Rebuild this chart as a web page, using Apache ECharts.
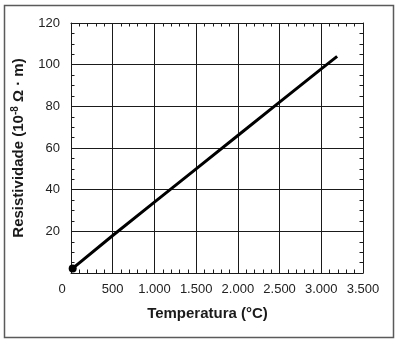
<!DOCTYPE html>
<html>
<head>
<meta charset="utf-8">
<script src="https://cdn.jsdelivr.net/npm/echarts@6/dist/echarts.min.js"></script>
<style>
  html, body { margin: 0; padding: 0; background: #fff; }
  #chart { width: 400px; height: 345px; }
</style>
</head>
<body>
<div id="chart"></div>
<script>
// Resistivity of a metal versus temperature
const temperatures = [20, 500, 1000, 1500, 2000, 2500, 3000, 3190];
const resistivity = [2.2, 18, 34, 50, 66, 82, 98, 104];

const xTicks = { min: 0, max: 3500, step: 500 };
const yTicks = { min: 0, max: 120, step: 20 };

const FONT = '"Liberation Sans", Arial, Helvetica, sans-serif';
const INK = '#1a1a1a';

// thousands separated by a dot: 1500 -> 1.500
function fmtThousands(v) {
  return String(v).replace(/\B(?=(\d{3})+(?!\d))/g, '.');
}

const lineData = temperatures.map((t, i) => {
  const item = { value: [t, resistivity[i]] };
  if (i === 0) { item.symbol = 'circle'; item.symbolSize = 8; }
  else { item.symbol = 'none'; }
  return item;
});

const frameAxis = (extra) => Object.assign({
  type: 'value',
  axisLine: { show: true, onZero: false, lineStyle: { color: INK, width: 1 } },
  axisTick: { show: true, inside: true, length: 3.5, lineStyle: { color: INK } },
  axisLabel: { show: false },
  splitLine: { show: false }
}, extra);

const chart = echarts.init(document.getElementById('chart'), null, { renderer: 'canvas' });

chart.setOption({
  animation: false,
  backgroundColor: '#fff',
  grid: { left: 71, top: 23, width: 292, height: 250 },
  graphic: [{
    type: 'rect',
    shape: { x: 4.5, y: 5.5, width: 389, height: 332 },
    style: { fill: null, stroke: '#5a5a5a', lineWidth: 1.5 },
    z: -10
  }],
  xAxis: [
    frameAxis({
      min: xTicks.min, max: xTicks.max, interval: xTicks.step, position: 'bottom',
      minorTick: { show: true, splitNumber: 5, length: 3.5, lineStyle: { color: INK } },
      splitLine: { show: true, lineStyle: { color: INK, width: 1 } },
      axisLabel: {
        show: true, margin: 10, fontFamily: FONT, fontSize: 13, color: '#222',
        formatter: v => v === 0 ? '{z|0}' : fmtThousands(v),
        rich: { z: { fontFamily: FONT, fontSize: 13, color: '#222', padding: [0, 18, 0, 0] } }
      },
      name: 'Temperatura (°C)', nameLocation: 'middle', nameGap: 33,
      nameTextStyle: { fontFamily: FONT, fontSize: 15, fontWeight: 'bold', color: '#1a1a1a', padding: [0, 19, 0, 0] }
    }),
    frameAxis({
      min: xTicks.min, max: xTicks.max, interval: xTicks.step, position: 'top',
      minorTick: { show: true, splitNumber: 5, length: 3.5, lineStyle: { color: INK } }
    })
  ],
  yAxis: [
    frameAxis({
      min: yTicks.min, max: yTicks.max, interval: yTicks.step, position: 'left',
      minorTick: { show: true, splitNumber: 4, length: 3.5, lineStyle: { color: INK } },
      splitLine: { show: true, lineStyle: { color: INK, width: 1 } },
      axisLabel: {
        show: true, margin: 11, fontFamily: FONT, fontSize: 13, color: '#222',
        formatter: v => v === 0 ? '' : String(v)
      },
      name: 'Resistividade (10{sup|-8} Ω · m)', nameLocation: 'middle', nameGap: 36,
      nameTextStyle: {
        fontFamily: FONT, fontSize: 15, fontWeight: 'bold', color: '#1a1a1a', lineHeight: 17,
        rich: {
          sup: { fontFamily: FONT, fontSize: 10, fontWeight: 'bold', color: '#1a1a1a', verticalAlign: 'top', lineHeight: 17, padding: [0, 0, 6, 0] }
        }
      }
    }),
    frameAxis({
      min: yTicks.min, max: yTicks.max, interval: yTicks.step, position: 'right',
      minorTick: { show: true, splitNumber: 4, length: 3.5, lineStyle: { color: INK } }
    })
  ],
  series: [{
    type: 'line',
    xAxisIndex: 0,
    yAxisIndex: 0,
    data: lineData,
    lineStyle: { color: '#000', width: 3 },
    itemStyle: { color: '#000' },
    z: 5
  }]
});
</script>
</body>
</html>
